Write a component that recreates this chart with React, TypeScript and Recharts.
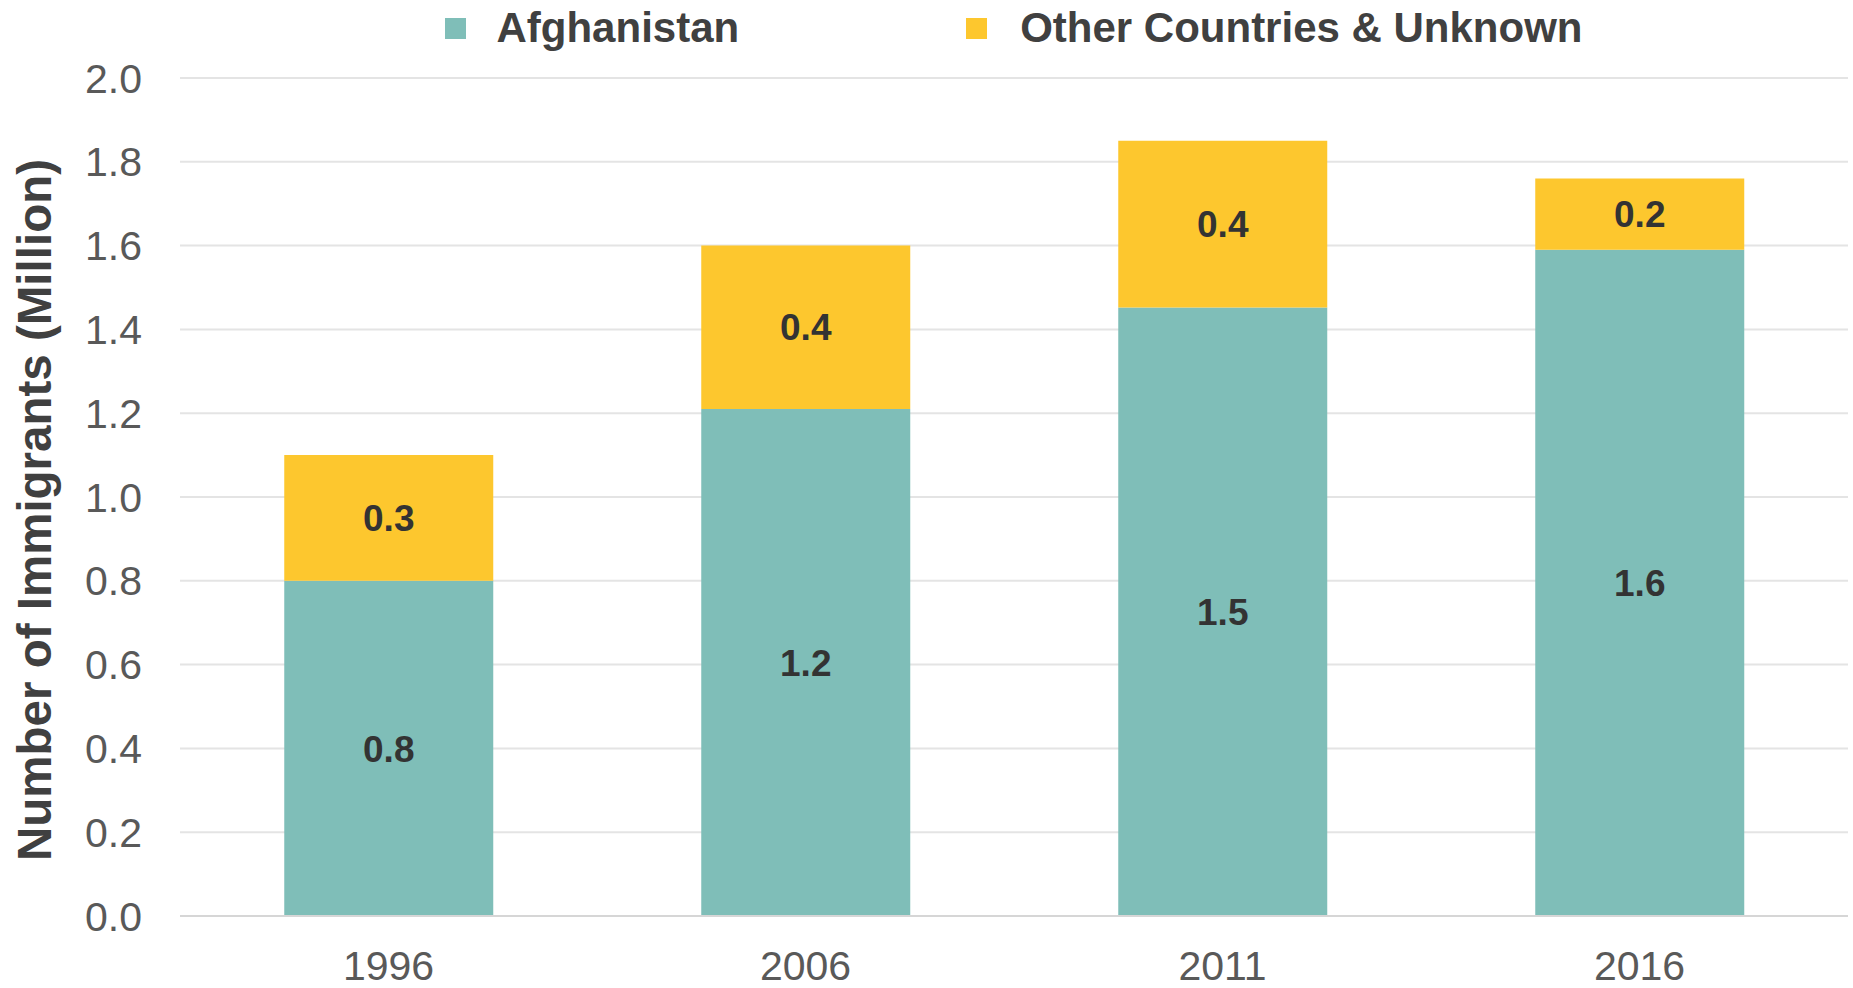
import React from 'react';
import { BarChart, Bar, XAxis, YAxis, CartesianGrid, Legend, LabelList } from 'recharts';

const years = ['1996', '2006', '2011', '2016'];
const afghanistan = [0.8, 1.21, 1.452, 1.59];
const otherCountries = [0.3, 0.39, 0.398, 0.17];
const yTicks = [0, 0.2, 0.4, 0.6, 0.8, 1.0, 1.2, 1.4, 1.6, 1.8, 2.0];

const seriesNames = ['Afghanistan', 'Other Countries & Unknown'];
const seriesColors = ['#7fbeb8', '#fdc72e'];

const data = years.map((year, i) => ({
  year,
  afghanistan: afghanistan[i],
  other: otherCountries[i],
}));

const FONT = '"Liberation Sans", Arial, Helvetica, sans-serif';

const LegendContent = (props: any) => {
  const items = props.payload || [];
  return (
    <div
      style={{
        height: 78,
        display: 'flex',
        justifyContent: 'center',
        alignItems: 'flex-start',
        paddingTop: 4,
        boxSizing: 'border-box',
        fontFamily: FONT,
      }}
    >
      {items.map((entry: any, i: number) => (
        <div
          key={`legend-${i}`}
          style={{ display: 'flex', alignItems: 'center', height: 48, marginLeft: i > 0 ? 227 : 0 }}
        >
          <span style={{ width: 21, height: 21, background: entry.color, display: 'inline-block', marginRight: i > 0 ? 33 : 30 }} />
          <span style={{ fontSize: 42, fontWeight: 'bold', color: '#404040' }}>{entry.value}</span>
        </div>
      ))}
    </div>
  );
};

const YTitle = (props: any) => {
  const vb = props.viewBox || {};
  const cx = 34;
  const cy = vb.y + vb.height / 2 + 13;
  return (
    <text
      x={cx}
      y={cy}
      transform={`rotate(-90, ${cx}, ${cy})`}
      textAnchor="middle"
      dominantBaseline="central"
      fontFamily={FONT}
      fontSize={47.5}
      fontWeight="bold"
      fill="#404040"
    >
      Number of Immigrants (Million)
    </text>
  );
};

const fmt = (v: any) => Number(v).toFixed(1);

export default function App() {
  return (
    <div style={{ width: 1853, height: 988, background: '#fff' }}>
      <style>{'body{margin:0;}'}</style>
      <BarChart
        width={1853}
        height={988}
        data={data}
        margin={{ top: 0, right: 5, bottom: 0, left: 0 }}
        barCategoryGap="25%"
      >
        <CartesianGrid vertical={false} stroke="#e4e4e4" strokeWidth={2} />
        <XAxis
          dataKey="year"
          height={72}
          tickLine={false}
          tickSize={0}
          tickMargin={35}
          axisLine={{ stroke: '#d6d6d6', strokeWidth: 2 }}
          tick={{ fontFamily: FONT, fontSize: 41, fill: '#595959' }}
        />
        <YAxis
          width={180}
          domain={[0, 2]}
          ticks={yTicks}
          tickFormatter={fmt}
          axisLine={false}
          tickLine={false}
          tickSize={0}
          tickMargin={38}
          tick={{ fontFamily: FONT, fontSize: 41, fill: '#595959' }}
          label={<YTitle />}
        />
        <Legend
          verticalAlign="top"
          align="center"
          content={<LegendContent />}
          wrapperStyle={{ left: 180, width: 1668, top: 0 }}
        />
        <Bar dataKey="afghanistan" name={seriesNames[0]} stackId="a" fill={seriesColors[0]} isAnimationActive={false}>
          <LabelList
            dataKey="afghanistan"
            position="center"
            formatter={fmt}
            style={{ fontFamily: FONT, fontSize: 37, fontWeight: 'bold', fill: '#333333' }}
          />
        </Bar>
        <Bar dataKey="other" name={seriesNames[1]} stackId="a" fill={seriesColors[1]} isAnimationActive={false}>
          <LabelList
            dataKey="other"
            position="center"
            formatter={fmt}
            style={{ fontFamily: FONT, fontSize: 37, fontWeight: 'bold', fill: '#333333' }}
          />
        </Bar>
      </BarChart>
    </div>
  );
}
